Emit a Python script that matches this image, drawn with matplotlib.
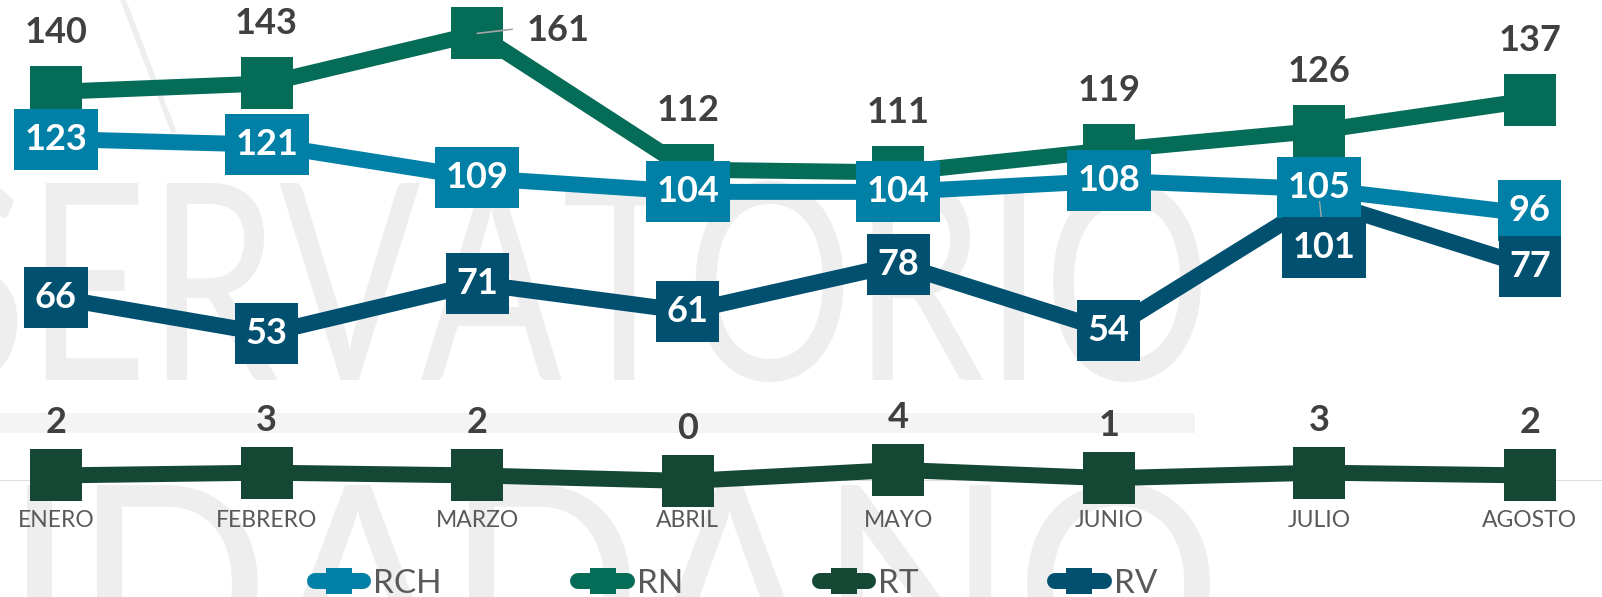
import matplotlib
matplotlib.use('Agg')
import matplotlib.pyplot as plt
from matplotlib.textpath import TextPath
from matplotlib.patches import PathPatch, Rectangle
from matplotlib.path import Path
from matplotlib.font_manager import FontProperties
from matplotlib.transforms import Affine2D
from matplotlib.lines import Line2D

plt.rcParams['font.family'] = ['Lato', 'DejaVu Sans']

# ---------------- data ----------------
months = ['ENERO', 'FEBRERO', 'MARZO', 'ABRIL', 'MAYO', 'JUNIO', 'JULIO', 'AGOSTO']
series_names = ['RCH', 'RN', 'RT', 'RV']
rch = [123, 121, 109, 104, 104, 108, 105, 96]
rn = [140, 143, 161, 112, 111, 119, 126, 137]
rt = [2, 3, 2, 0, 4, 1, 3, 2]
rv = [66, 53, 71, 61, 78, 54, 101, 77]

# ---------------- style ----------------
C_RCH = '#0080A6'
C_RN = '#056C58'
C_RT = '#144834'
C_RV = '#015070'
LBL_DARK = '#404040'
TICK_GRAY = '#595959'
WM = '#EEEEEE'

W, H = 1602, 597
fig = plt.figure(figsize=(W / 100, H / 100), dpi=100)
fig.patch.set_facecolor('white')

# ---------------- faint watermark ----------------
prop_wm = FontProperties(family='Lato', weight='normal')


def add_path(tp, sx, sy, ox, oy):
    tr = Affine2D().scale(sx / W, sy / H).translate(ox / W, oy / H)
    p = PathPatch(tr.transform_path(tp), transform=fig.transFigure,
                  fc=WM, ec='none', zorder=-5)
    fig.add_artist(p)


tp1 = TextPath((0, 0), 'SERVATORIO', size=100, prop=prop_wm)
e1 = tp1.get_extents()
eE = TextPath((0, 0), 'E', size=100, prop=prop_wm).get_extents()
sx1 = (1201 + 80) / e1.width
sy1 = (380 - 183) / eE.height
add_path(tp1, sx1, sy1, -80 - e1.x0 * sx1, (H - 380) - eE.y0 * sy1)

tp2 = TextPath((0, 0), 'CIUDADANO', size=100, prop=prop_wm)
e2 = tp2.get_extents()
et = TextPath((0, 0), 'DADANO', size=100, prop=prop_wm).get_extents()
eD = TextPath((0, 0), 'D', size=100, prop=prop_wm).get_extents()
sx2 = (1210 - 97) / et.width
sy2 = sy1
add_path(tp2, sx2, sy2, 1210 - e2.x1 * sx2, (H - 485) - eD.y1 * sy2)

fig.add_artist(Rectangle((0, (H - 433) / H), 1195 / W, 20 / H,
                         transform=fig.transFigure, fc='#F4F4F4', ec='none', zorder=-5))
fig.add_artist(Line2D([123 / W, 173 / W], [1.0, (H - 130) / H], transform=fig.transFigure,
                      color=WM, lw=4, zorder=-5))

# ---------------- axes ----------------
AX0 = 481  # image y of value 0
PX_PER_UNIT = 2.78
X0 = 56
DX = 210.57
ax = fig.add_axes([0, (H - AX0) / H, 1, AX0 / H])
ax.patch.set_visible(False)
ax.set_xlim(-X0 / DX, (W - X0) / DX)
ax.set_ylim(0, AX0 / PX_PER_UNIT)
for s in ax.spines.values():
    s.set_visible(False)
ax.set_yticks([])
xs = list(range(len(months)))
ax.set_xticks(xs)
ax.set_xticklabels(months)
ax.tick_params(axis='x', length=0, pad=21, labelsize=16.5, labelcolor=TICK_GRAY)
ax.axhline(0, color='#D9D9D9', lw=1.3, zorder=1)

data = {'RCH': (rch, C_RCH), 'RN': (rn, C_RN), 'RT': (rt, C_RT), 'RV': (rv, C_RV)}
lines = []
for name in series_names:
    vals, col = data[name]
    ln, = ax.plot(xs, vals, color=col, lw=11.5, marker='s', ms=37, mec=col, mew=0,
                  solid_capstyle='round', solid_joinstyle='round', zorder=2,
                  label=name, clip_on=False)
    lines.append(ln)

FS = 26
PT = 0.72  # points per pixel


def label_box(x0, y0, width, height, mutation_size):
    # fixed-height box (61 px) with 10.5 px side padding, centred on the text
    cx = x0 + width / 2
    cy = y0 + height / 2
    w = width + 21
    h = 61
    l, b = cx - w / 2, cy - h / 2
    return Path([(l, b), (l + w, b), (l + w, b + h), (l, b + h), (l, b)], closed=True)


def box_label(i, v, col, dx=0, dy=0, leader=False):
    kw = {}
    if leader:
        kw['arrowprops'] = dict(arrowstyle='-', color='#A6A6A6', lw=1.0,
                                shrinkA=0, shrinkB=1)
    ax.annotate(str(v), (i, v), xytext=(dx * PT, dy * PT), textcoords='offset points',
                ha='center', va='center', fontsize=FS, fontweight='bold', color='white',
                bbox=dict(boxstyle=label_box, fc=col, ec='none'), zorder=6, **kw)


# RCH labels
rch_off = {6: (0, 2), 7: (0, 4)}
for i, v in enumerate(rch):
    dx, dy = rch_off.get(i, (0, 0))
    box_label(i, v, C_RCH, dx, dy)

# RN labels above
for i, v in enumerate(rn):
    if i == 2:
        ax.annotate(str(v), (i, v), xytext=(49 * PT, -8 * PT), textcoords='offset points',
                    ha='left', va='baseline', fontsize=FS, fontweight='bold', color=LBL_DARK,
                    zorder=6,
                    arrowprops=dict(arrowstyle='-', color='#A6A6A6', lw=1.2,
                                    relpos=(0, 0.6), shrinkA=8, shrinkB=0))
    else:
        ax.annotate(str(v), (i, v), xytext=(0, 49 * PT), textcoords='offset points',
                    ha='center', va='baseline', fontsize=FS, fontweight='bold',
                    color=LBL_DARK, zorder=6)

# RT labels above
for i, v in enumerate(rt):
    ax.annotate(str(v), (i, v), xytext=(0, 42 * PT), textcoords='offset points',
                ha='center', va='baseline', fontsize=FS, fontweight='bold',
                color=LBL_DARK, zorder=6)

# RV labels
for i, v in enumerate(rv):
    if i == 6:
        box_label(i, v, C_RV, 5, -47, leader=True)
    else:
        box_label(i, v, C_RV)

# ---------------- legend ----------------
leg = fig.legend(lines, series_names, loc='center', bbox_to_anchor=(736 / W, (H - 584) / H),
                 ncol=4, frameon=False, fontsize=24, handlelength=1.45, handletextpad=0.3,
                 columnspacing=4.1, markerscale=0.5, labelcolor=TICK_GRAY)

fig.savefig('out.png', dpi=100, facecolor='white')
